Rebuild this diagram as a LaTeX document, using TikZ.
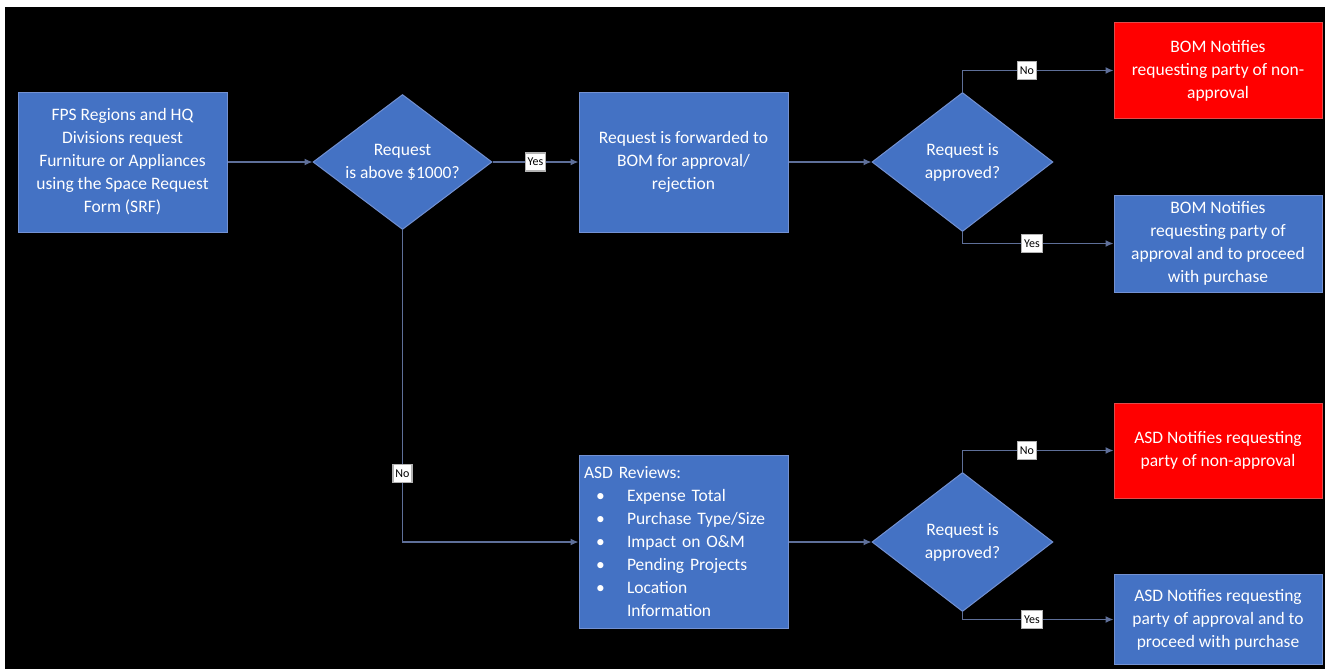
\documentclass[tikz,border=0pt]{standalone}
\usepackage{fontspec}
\setmainfont{Carlito}
\usetikzlibrary{shapes.geometric,arrows.meta}
\definecolor{boxblue}{HTML}{4472C4}
\definecolor{boxedge}{HTML}{7391D2}
\definecolor{alertred}{HTML}{FF0000}
\definecolor{alertedge}{HTML}{E04A4A}
\definecolor{linecol}{HTML}{5E6F99}
\begin{document}
\begin{tikzpicture}[x=1pt,y=-1pt,
  every node/.style={font=\fontsize{17.5}{23}\selectfont, text=white, inner sep=2pt},
  procbox/.style={rectangle, fill=boxblue, draw=boxedge, line width=1pt, align=center},
  redbox/.style={procbox, fill=alertred, draw=alertedge},
  decide/.style={diamond, aspect=1.33, fill=boxblue, draw=boxedge, line width=1pt, align=center, inner sep=0pt},
  flow/.style={draw=linecol, line width=1.2pt, -{Latex[length=8pt,width=7pt]}},
  tag/.style={fill=white, text=black, font=\fontsize{12}{14}\selectfont, inner sep=2.5pt, minimum height=18pt, draw=gray!60},
]
\useasboundingbox (0,0) rectangle (1325,669);
\fill[white] (0,0) rectangle (1325,669);
\fill[black] (5,7) rectangle (1325,669);

\node[procbox, minimum width=209pt, minimum height=140pt] (srf) at (122.5,162)
  {FPS Regions and HQ\\Divisions request\\Furniture or Appliances\\using the Space Request\\Form (SRF)};
\node[decide, minimum width=179pt, minimum height=135pt] (above) at (402.5,162)
  {Request\\is above \$1000?};
\node[procbox, minimum width=209pt, minimum height=140pt] (fwd) at (683.5,162)
  {Request is forwarded to\\BOM for approval/\\rejection};
\node[decide, minimum width=181pt, minimum height=139pt] (bomok) at (962.5,162)
  {Request is\\approved?};
\node[redbox, minimum width=208pt, minimum height=95pt] (bomno) at (1218,70.5)
  {BOM Notifies\\requesting party of non-\\approval};
\node[procbox, minimum width=208pt, minimum height=97pt] (bomyes) at (1218,243.5)
  {BOM Notifies\\requesting party of\\approval and to proceed\\with purchase};
\node[procbox, minimum width=209pt, minimum height=173pt, text width=199pt, align=left] (asd) at (683.5,542)
  {ASD Reviews:\\
   \hspace*{12pt}\makebox[31pt][l]{\textbullet}Expense Total\\
   \hspace*{12pt}\makebox[31pt][l]{\textbullet}Purchase Type/Size\\
   \hspace*{12pt}\makebox[31pt][l]{\textbullet}Impact on O\&M\\
   \hspace*{12pt}\makebox[31pt][l]{\textbullet}Pending Projects\\
   \hspace*{12pt}\makebox[31pt][l]{\textbullet}Location\\
   \hspace*{43pt}Information};
\node[decide, minimum width=181pt, minimum height=139pt] (asdok) at (962.5,542)
  {Request is\\approved?};
\node[redbox, minimum width=208pt, minimum height=95pt] (asdno) at (1218,450.5)
  {ASD Notifies requesting\\party of non-approval};
\node[procbox, minimum width=208pt, minimum height=90pt] (asdyes) at (1218,619.5)
  {ASD Notifies requesting\\party of approval and to\\proceed with purchase};

\draw[flow] (srf.east) -- (above.west);
\draw[flow] (above.east) -- node[tag] (l1) {Yes} (fwd.west);
\draw[flow] (fwd.east) -- (bomok.west);
\draw[flow] (bomok.north) |- node[tag, pos=0.713] (l2) {No} (bomno.west);
\draw[flow] (bomok.south) |- node[tag, pos=0.73] (l3) {Yes} (bomyes.west);
\draw[flow] (above.south) |- node[tag, pos=0.39] (l4) {No} (asd.west);
\draw[flow] (asd.east) -- (asdok.west);
\draw[flow] (asdok.north) |- node[tag, pos=0.713] (l5) {No} (asdno.west);
\draw[flow] (asdok.south) |- node[tag, pos=0.73] (l6) {Yes} (asdyes.west);
\end{tikzpicture}
\end{document}
